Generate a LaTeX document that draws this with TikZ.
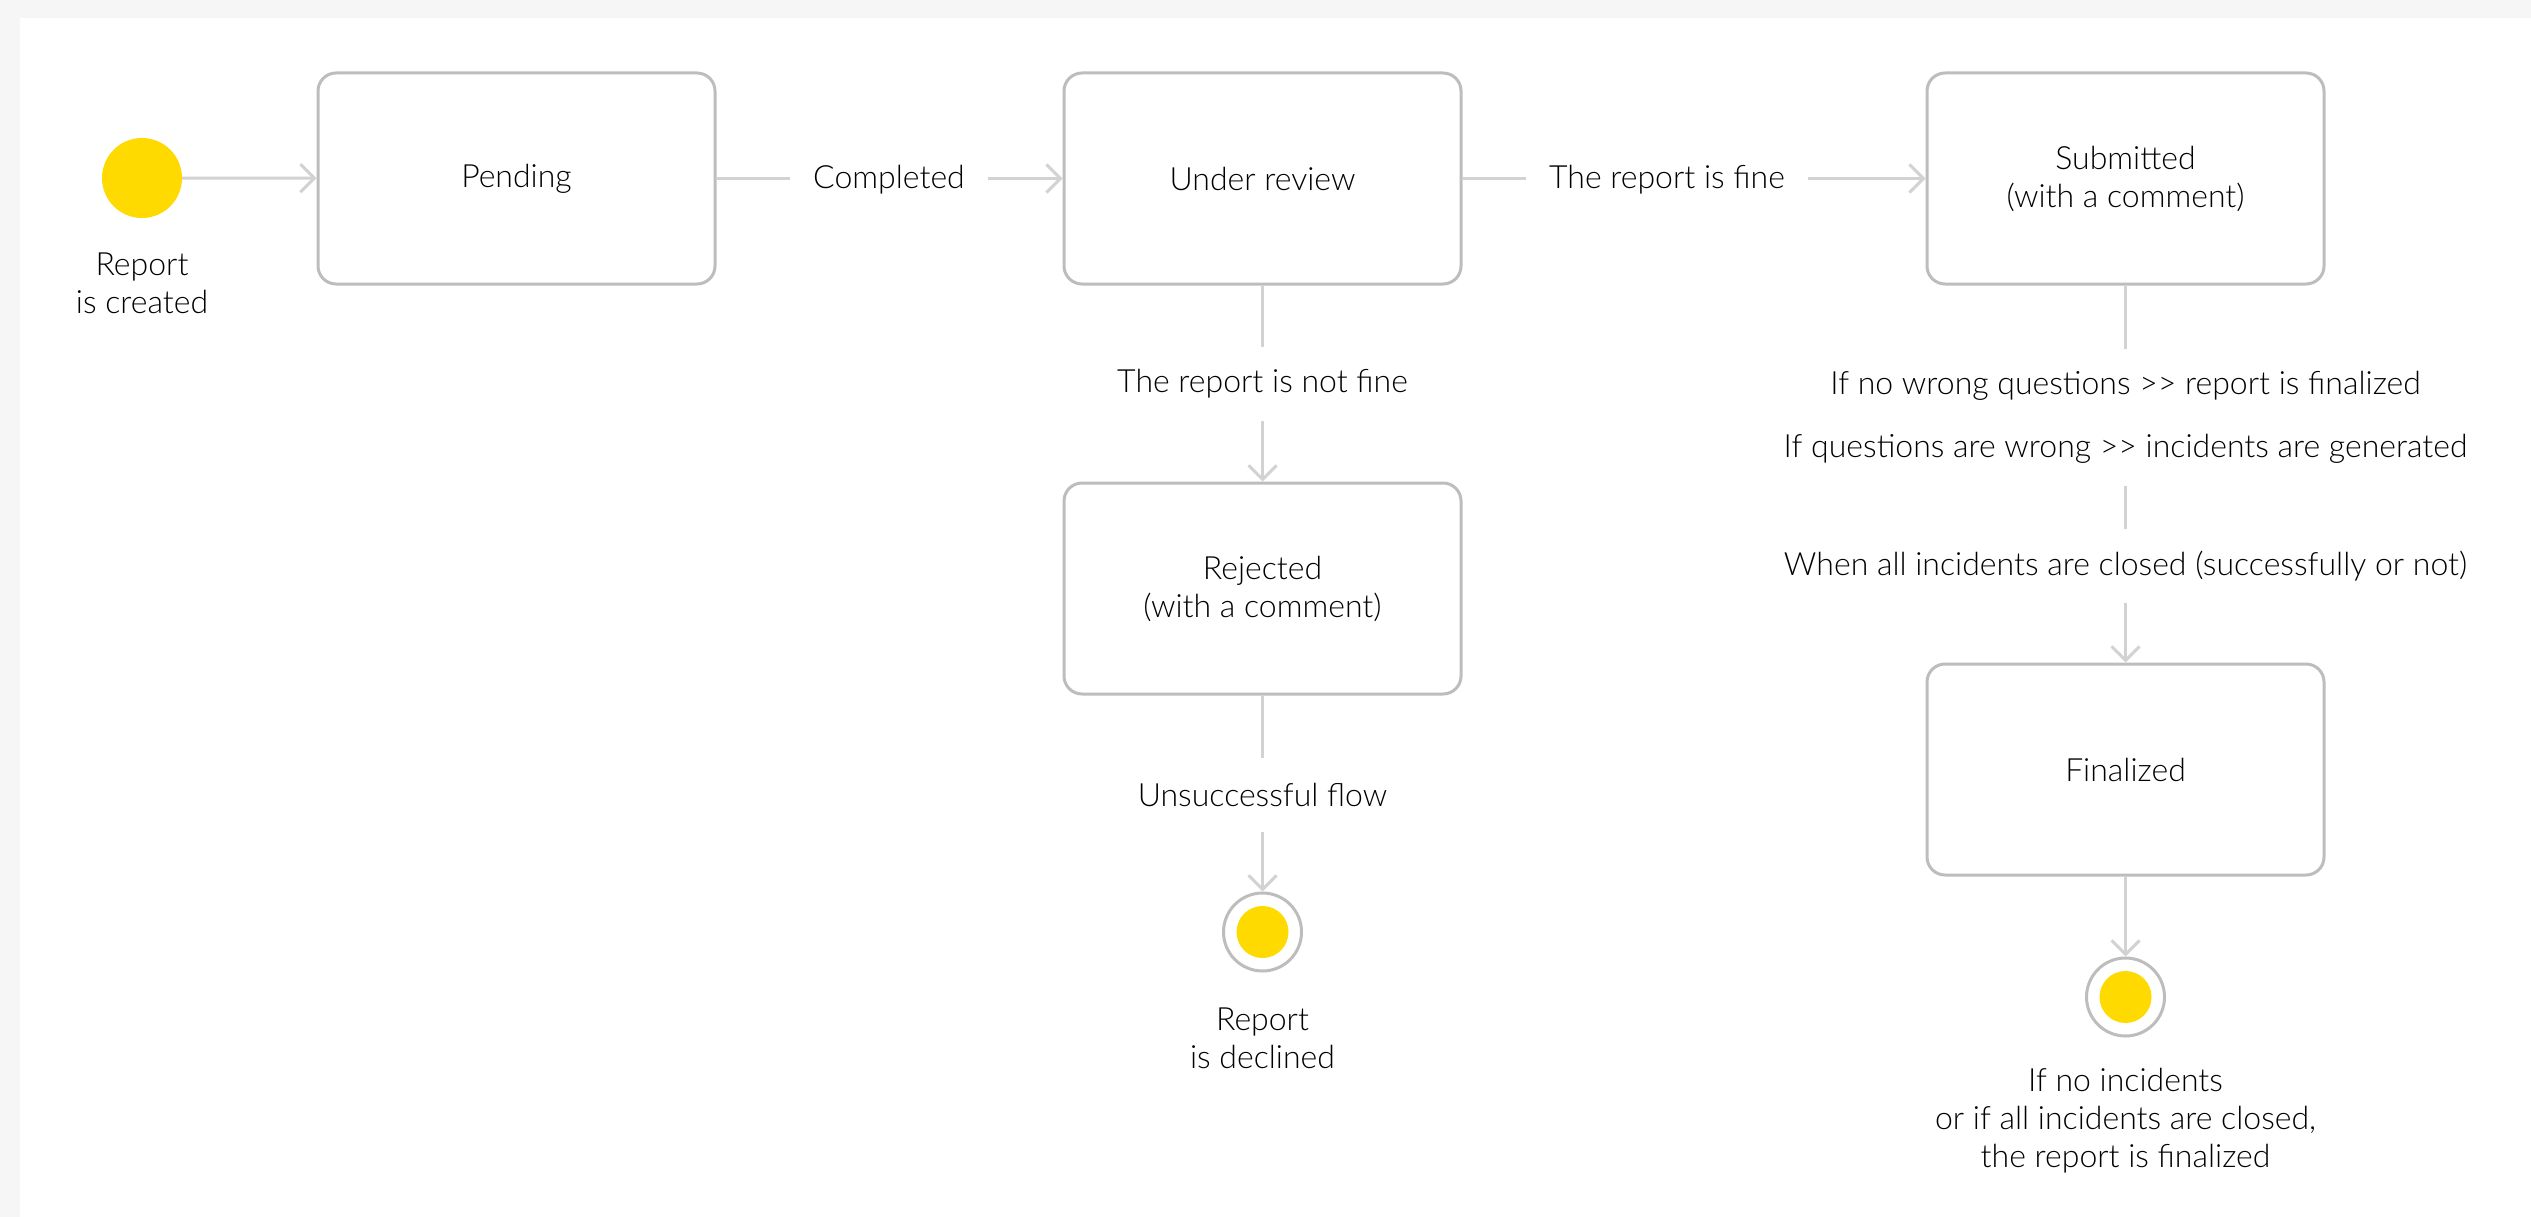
\documentclass[tikz,border=0pt]{standalone}
\usepackage{fontspec}
\setmainfont{Lato}[UprightFont={* Light}, Ligatures=TeXOff]
\usetikzlibrary{arrows.meta}
\definecolor{ylw}{HTML}{FFDA00}
\definecolor{lgray}{HTML}{D2D2D2}
\definecolor{bgray}{HTML}{BDBDBD}
\definecolor{bgc}{HTML}{F6F6F6}
\definecolor{txt}{HTML}{000000}
\tikzset{
  every node/.style={font=\fontsize{32}{38}\selectfont, text=txt},
  state/.style={draw=bgray, line width=3pt, rounded corners=18pt, fill=white,
    minimum width=397pt, minimum height=211pt, align=center, inner sep=0pt},
  lbl/.style={inner xsep=23pt, inner ysep=0pt, minimum height=73pt, align=center},
  captxt/.style={align=center, inner sep=0pt},
  conn/.style={draw=lgray, line width=3pt},
  arr/.style={conn, -{Straight Barb[length=14pt,width=28pt]}},
  startst/.style={circle, fill=ylw, minimum size=80pt, inner sep=0pt},
  endst/.style={circle, draw=bgray, line width=3pt, fill=white, minimum size=78pt, inner sep=0pt,
    path picture={\fill[ylw] (path picture bounding box.center) circle (26pt);}}
}
\begin{document}
\begin{tikzpicture}[x=1pt, y=-1pt]
\fill[bgc] (0,0) rectangle (2531,1217);
\fill[white] (20,18) rectangle (2531,1217);
\useasboundingbox (0,0) rectangle (2531,1217);

% nodes
\node[startst] (start) at (142,178) {};
\node[captxt] (startcap) at (142,283) {Report\\is created};
\node[state] (pending) at (516.5,178.5) {Pending};
\node[state] (review) at (1262.5,178.5) {Under review};
\node[state] (submitted) at (2125.5,178.5) {Submitted\\(with a comment)};
\node[state] (rejected) at (1262.5,588.5) {Rejected\\(with a comment)};
\node[state] (finalized) at (2125.5,769.5) {Finalized};
\node[endst] (end1) at (1262.5,932) {};
\node[captxt] (end1cap) at (1262.5,1038) {Report\\is declined};
\node[endst] (end2) at (2125.5,997) {};
\node[captxt] (end2cap) at (2125.5,1121) {If no incidents\\or if all incidents are closed,\\the report is finalized};

% labels
\node[lbl] (completed) at (889,180) {Completed};
\node[lbl] (fine) at (1667,180) {The report is fine};
\node[lbl] (notfine) at (1262.5,384) {The report is not fine};
\node[lbl] (unsucc) at (1262.5,795) {Unsuccessful flow};
\node[lbl] (q1) at (2125.5,386) {If no wrong questions >\kern0pt> report is finalized};
\node[lbl] (q2) at (2125.5,449) {If questions are wrong >\kern0pt> incidents are generated};
\node[lbl] (q3) at (2125.5,566) {When all incidents are closed (successfully or not)};

% connectors
\draw[arr] (start) -- (pending);
\draw[conn] (pending) -- (pending.east -| completed.west);
\draw[arr] (completed.east |- review.west) -- (review);
\draw[conn] (review) -- (review.east -| fine.west);
\draw[arr] (fine.east |- submitted.west) -- (submitted);
\draw[conn] (review) -- (notfine);
\draw[arr] (notfine) -- (rejected);
\draw[conn] (rejected) -- (unsucc);
\draw[arr] (unsucc) -- (end1);
\draw[conn] (submitted) -- (q1);
\draw[conn] (q2) -- (q3);
\draw[arr] (q3) -- (finalized);
\draw[arr] (finalized) -- (end2);
\end{tikzpicture}
\end{document}
